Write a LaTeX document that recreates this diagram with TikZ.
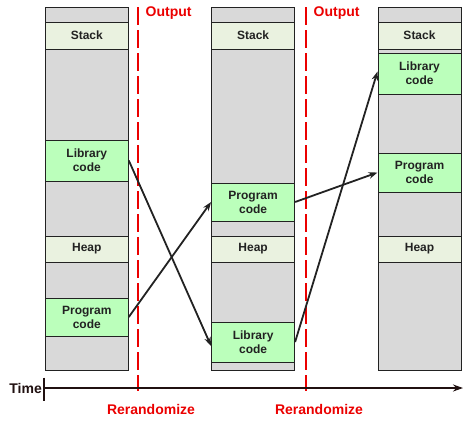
\documentclass[tikz,border=0pt]{standalone}
\usepackage{fontspec}
\setmainfont{Liberation Sans}
\usetikzlibrary{arrows.meta}
\definecolor{memgray}{RGB}{217,217,217}
\definecolor{codegreen}{RGB}{187,255,187}
\definecolor{palegreen}{RGB}{234,242,224}
\definecolor{edgedark}{RGB}{34,34,34}
\definecolor{axisdark}{RGB}{32,16,16}
\definecolor{outred}{RGB}{235,0,0}
\tikzset{
  col/.style={draw=edgedark, line width=1pt, fill=memgray, inner sep=0pt, minimum width=83pt},
  seg/.style={draw=edgedark, line width=1pt, inner sep=0pt, minimum width=83pt, align=center,
    font=\fontsize{12}{14}\selectfont\bfseries, text=edgedark},
  codeseg/.style={seg, fill=codegreen},
  paleseg/.style={seg, fill=palegreen},
  move/.style={draw=edgedark, line width=1.8pt, -{Stealth[length=9pt,width=6.5pt]}},
  rand/.style={draw=outred, line width=2pt, dash pattern=on 18pt off 5pt},
  redlbl/.style={text=outred, font=\fontsize{14}{16}\selectfont\bfseries, inner sep=0pt},
}
\begin{document}
\begin{tikzpicture}[x=1pt,y=-1pt]
\useasboundingbox (0,0) rectangle (473,426);
% columns
\node[col, minimum height=363pt] (c1) at (86.8,188.5) {};
\node[col, minimum height=363pt] (c2) at (253.1,188.5) {};
\node[col, minimum height=363pt] (c3) at (419.5,188.5) {};
% column 1
\node[paleseg, minimum height=27pt] (c1stack) at (86.8,35.5) {Stack};
\node[codeseg, minimum height=41pt] (c1lib) at (86.8,160.5) {Library\\code};
\node[paleseg, minimum height=26pt] (c1heap) at (86.8,249) {Heap};
\node[codeseg, minimum height=38pt] (c1prog) at (86.8,317) {Program\\code};
% column 2
\node[paleseg, minimum height=27pt] (c2stack) at (253.1,35.5) {Stack};
\node[codeseg, minimum height=38pt] (c2prog) at (253.1,202) {Program\\code};
\node[paleseg, minimum height=26pt] (c2heap) at (253.1,249) {Heap};
\node[codeseg, minimum height=40pt] (c2lib) at (253.1,342) {Library\\code};
% column 3
\node[paleseg, minimum height=27pt] (c3stack) at (419.5,35.5) {Stack};
\node[codeseg, minimum height=41pt] (c3lib) at (419.5,73.5) {Library\\code};
\node[codeseg, minimum height=39pt] (c3prog) at (419.5,172.5) {Program\\code};
\node[paleseg, minimum height=26pt] (c3heap) at (419.5,249) {Heap};
% rerandomization lines
\coordinate (r1top) at (137.7,7);
\coordinate (r1bot) at (137.7,391);
\coordinate (r2top) at (306,7);
\coordinate (r2bot) at (306,391);
\draw[rand] (r1top) -- (r1bot);
\draw[rand] (r2top) -- (r2bot);
\node[redlbl, anchor=west] (out1) at (145.5,13) {Output};
\node[redlbl, anchor=west] (out2) at (313.5,13) {Output};
\node[redlbl] (rr1) at (151,409) {Rerandomize};
\node[redlbl] (rr2) at (319,409) {Rerandomize};
% time axis
\coordinate (tstart) at (45,388);
\coordinate (tend) at (463,388);
\coordinate (ticktop) at (44,377.5);
\coordinate (tickbot) at (44,400.5);
\draw[axisdark, line width=2pt, -{Stealth[length=10pt,width=7pt]}] (tstart) -- (tend);
\draw[axisdark, line width=2pt] (ticktop) -- (tickbot);
\node[anchor=east, inner sep=0pt, text=axisdark, font=\fontsize{14}{16}\selectfont\bfseries] (time) at (42,388) {Time};
% moves
\draw[move] (c1lib.east) -- ([yshift=-4pt]c2lib.west);
\draw[move] (c1prog.east) -- (c2prog.west);
\draw[move] (c2prog.east) -- (c3prog.west);
\draw[move] (c2lib.east) -- ([yshift=2pt]c3lib.west);
\end{tikzpicture}
\end{document}
